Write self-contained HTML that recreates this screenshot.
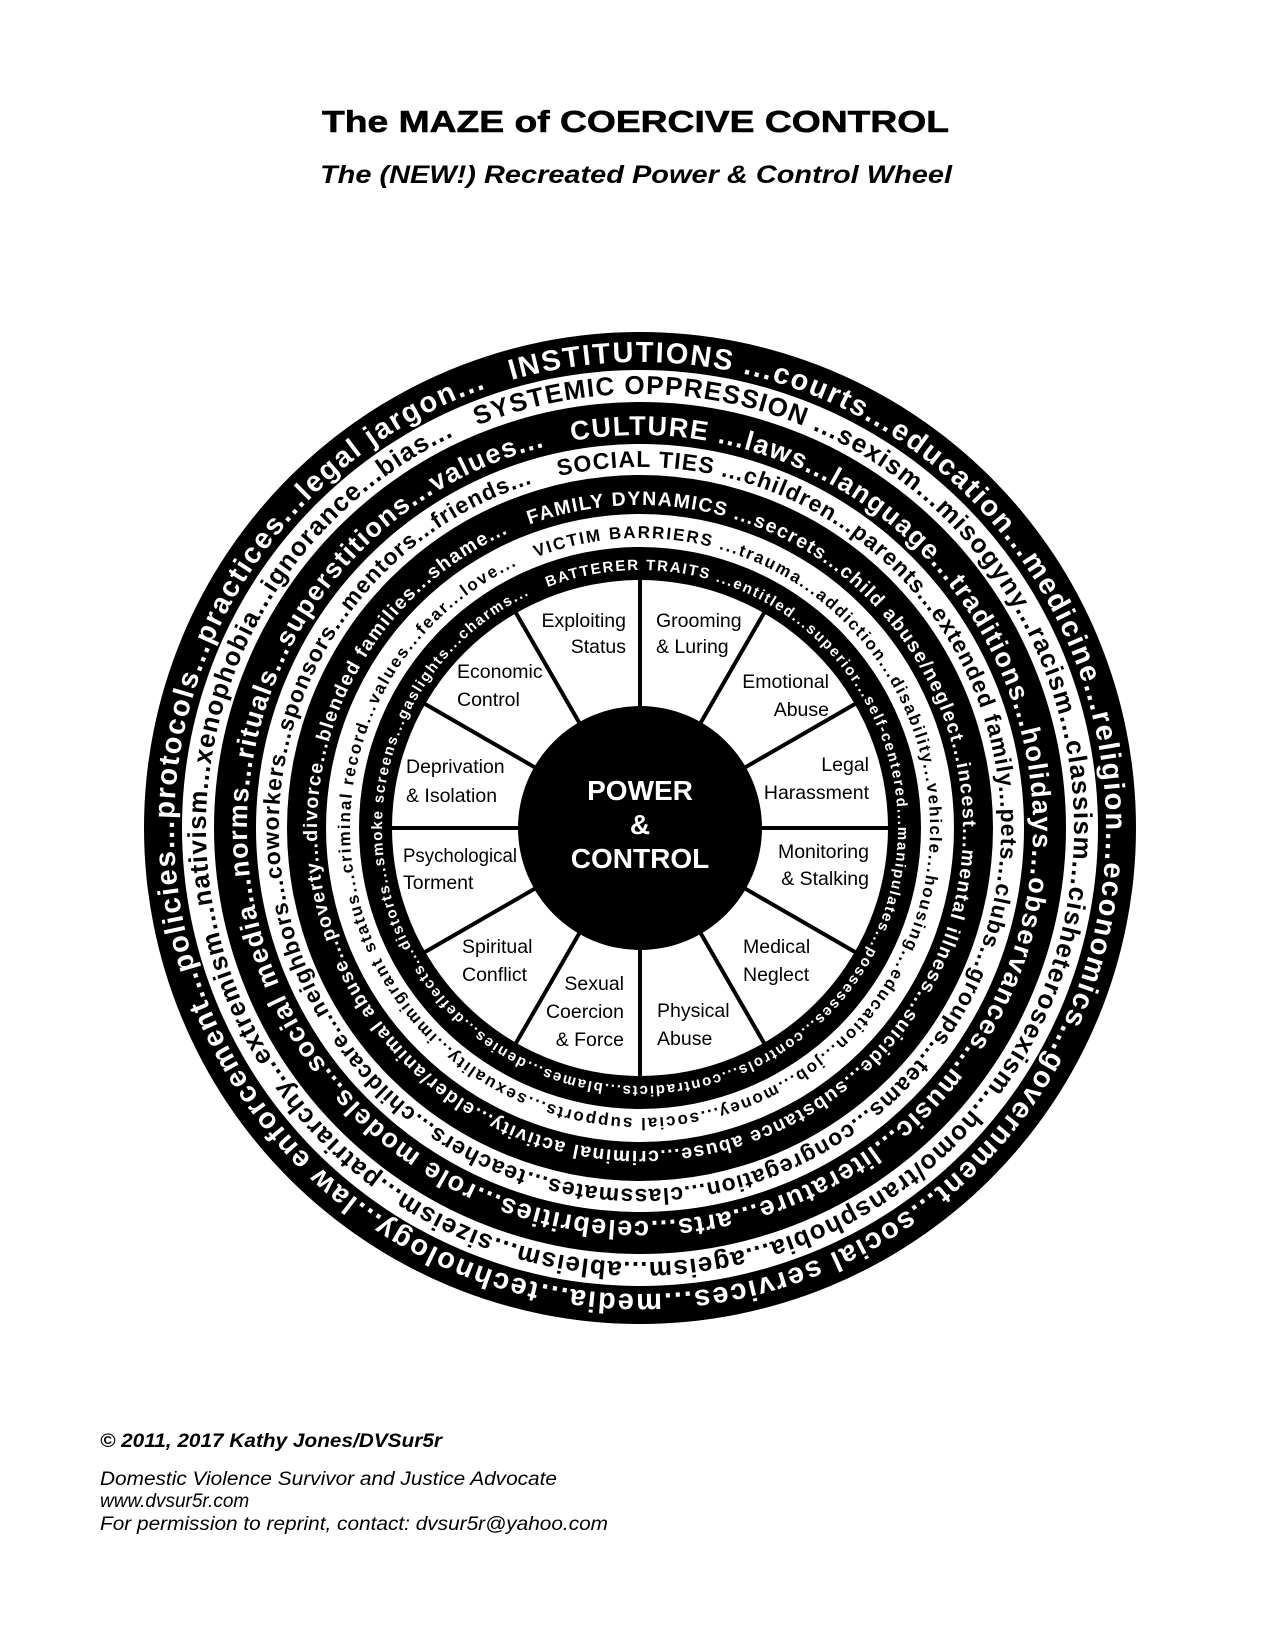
<!DOCTYPE html>
<html><head><meta charset="utf-8"><style>
html,body{margin:0;padding:0;background:#fff;}
svg{display:block;}
.r{font-family:"Liberation Sans",sans-serif;font-weight:bold;}
.seg{font-family:"Liberation Sans",sans-serif;font-size:19.5px;fill:#000;}
</style></head><body>
<svg width="1275" height="1650" viewBox="0 0 1275 1650" xmlns="http://www.w3.org/2000/svg">
<defs>
<path id="p466" d="M640,362 A466,466 0 1 1 640,1294 A466,466 0 1 1 640,362"/>
<path id="p434" d="M640,394 A434,434 0 1 1 640,1262 A434,434 0 1 1 640,394"/>
<path id="p393" d="M640,435 A393,393 0 1 1 640,1221 A393,393 0 1 1 640,435"/>
<path id="p361" d="M640,467 A361,361 0 1 1 640,1189 A361,361 0 1 1 640,467"/>
<path id="p323" d="M640,505 A323,323 0 1 1 640,1151 A323,323 0 1 1 640,505"/>
<path id="p290" d="M640,538 A290,290 0 1 1 640,1118 A290,290 0 1 1 640,538"/>
<path id="p258" d="M640,570 A258,258 0 1 1 640,1086 A258,258 0 1 1 640,570"/>
</defs>
<text x="322" y="132" class="r" font-size="31" stroke="#000" stroke-width="0.6" textLength="627" lengthAdjust="spacingAndGlyphs">The MAZE of COERCIVE CONTROL</text>
<text x="320" y="183" font-family="Liberation Sans,sans-serif" font-style="italic" font-weight="bold" font-size="25" textLength="632" lengthAdjust="spacingAndGlyphs">The (NEW!) Recreated Power &amp; Control Wheel</text>

<circle cx="640" cy="828" r="496" fill="#000"/>
<circle cx="640" cy="828" r="458" fill="#fff"/>
<circle cx="640" cy="828" r="426" fill="#000"/>
<circle cx="640" cy="828" r="384" fill="#fff"/>
<circle cx="640" cy="828" r="353" fill="#000"/>
<circle cx="640" cy="828" r="314" fill="#fff"/>
<circle cx="640" cy="828" r="281" fill="#000"/>
<circle cx="640" cy="828" r="248" fill="#fff"/>

<g transform="rotate(-16 640 828)"><text class="r" font-size="29" fill="#fff"><textPath href="#p466" textLength="2900">INSTITUTIONS ...courts...education...medicine...religion...economics...government...social services...media...technology...law enforcement...policies...protocols...practices...legal jargon...</textPath></text></g>
<g transform="rotate(-22 640 828)"><text class="r" font-size="26" fill="#000"><textPath href="#p434" textLength="2700">SYSTEMIC OPPRESSION ...sexism...misogyny...racism...classism...cisheterosexism...homo/transphobia...ageism...ableism...sizeism...patriarchy...extremism...nativism...xenophobia...ignorance...bias...</textPath></text></g>
<g transform="rotate(-10 640 828)"><text class="r" font-size="27" fill="#fff"><textPath href="#p393" textLength="2440">CULTURE ...laws...language...traditions...holidays...observances...music...literature...arts...celebrities...role models...social media...norms...rituals...superstitions...values...</textPath></text></g>
<g transform="rotate(-13 640 828)"><text class="r" font-size="23" fill="#000"><textPath href="#p361" textLength="2240">SOCIAL TIES ...children...parents...extended family...pets...clubs...groups...teams...congregation...classmates...teachers...childcare...neighbors...coworkers...sponsors...mentors...friends...</textPath></text></g>
<g transform="rotate(-20 640 828)"><text class="r" font-size="19.5" fill="#fff"><textPath href="#p323" textLength="2005">FAMILY DYNAMICS ...secrets...child abuse/neglect...incest...mental illness...suicide...substance abuse...criminal activity...elder/animal abuse...poverty...divorce...blended families...shame...</textPath></text></g>
<g transform="rotate(-21 640 828)"><text class="r" font-size="17" fill="#000"><textPath href="#p290" textLength="1800">VICTIM BARRIERS ...trauma...addiction...disability...vehicle...housing...education...job...money...social supports...sexuality...immigrant status...criminal record...values...fear...love...</textPath></text></g>
<g transform="rotate(-21 640 828)"><text class="r" font-size="15" fill="#fff"><textPath href="#p258" textLength="1600">BATTERER TRAITS ...entitled...superior...self-centered...manipulates...possesses...controls...contradicts...blames...denies...deflects...distorts...smoke screens...gaslights...charms...</textPath></text></g>

<g stroke="#000" stroke-width="4">
<line x1="640" y1="580" x2="640" y2="1076"/>
<line x1="392" y1="828" x2="888" y2="828"/>
<line x1="516" y1="613" x2="764" y2="1043"/>
<line x1="764" y1="613" x2="516" y2="1043"/>
<line x1="425" y1="704" x2="855" y2="952"/>
<line x1="855" y1="704" x2="425" y2="952"/>
</g>
<circle cx="640" cy="828" r="122" fill="#000"/>
<g class="r" fill="#fff" text-anchor="middle" font-size="28">
<text x="640" y="800">POWER</text>
<text x="640" y="834">&amp;</text>
<text x="640" y="868">CONTROL</text>
</g>

<g class="seg">
<text x="626" y="627" text-anchor="end">Exploiting</text>
<text x="626" y="653" text-anchor="end">Status</text>
<text x="656" y="627">Grooming</text>
<text x="656" y="653">&amp; Luring</text>
<text x="829" y="688" text-anchor="end">Emotional</text>
<text x="829" y="716" text-anchor="end">Abuse</text>
<text x="869" y="771" text-anchor="end">Legal</text>
<text x="869" y="799" text-anchor="end">Harassment</text>
<text x="869" y="858" text-anchor="end">Monitoring</text>
<text x="869" y="885" text-anchor="end">&amp; Stalking</text>
<text x="743" y="953">Medical</text>
<text x="743" y="981">Neglect</text>
<text x="657" y="1017">Physical</text>
<text x="657" y="1045">Abuse</text>
<text x="624" y="990" text-anchor="end">Sexual</text>
<text x="624" y="1018" text-anchor="end">Coercion</text>
<text x="624" y="1046" text-anchor="end">&amp; Force</text>
<text x="462" y="953">Spiritual</text>
<text x="462" y="981">Conflict</text>
<text x="403" y="862" textLength="114" lengthAdjust="spacingAndGlyphs">Psychological</text>
<text x="403" y="889">Torment</text>
<text x="406" y="773">Deprivation</text>
<text x="406" y="802">&amp; Isolation</text>
<text x="457" y="678">Economic</text>
<text x="457" y="706">Control</text>
</g>

<g font-family="Liberation Sans,sans-serif" font-style="italic" font-size="19">
<text x="100" y="1447" font-weight="bold" textLength="342" lengthAdjust="spacingAndGlyphs">© 2011, 2017 Kathy Jones/DVSur5r</text>
<text x="100" y="1485" textLength="457" lengthAdjust="spacingAndGlyphs">Domestic Violence Survivor and Justice Advocate</text>
<text x="100" y="1507">www.dvsur5r.com</text>
<text x="100" y="1530" textLength="508" lengthAdjust="spacingAndGlyphs">For permission to reprint, contact: dvsur5r@yahoo.com</text>
</g>
</svg>
</body></html>
